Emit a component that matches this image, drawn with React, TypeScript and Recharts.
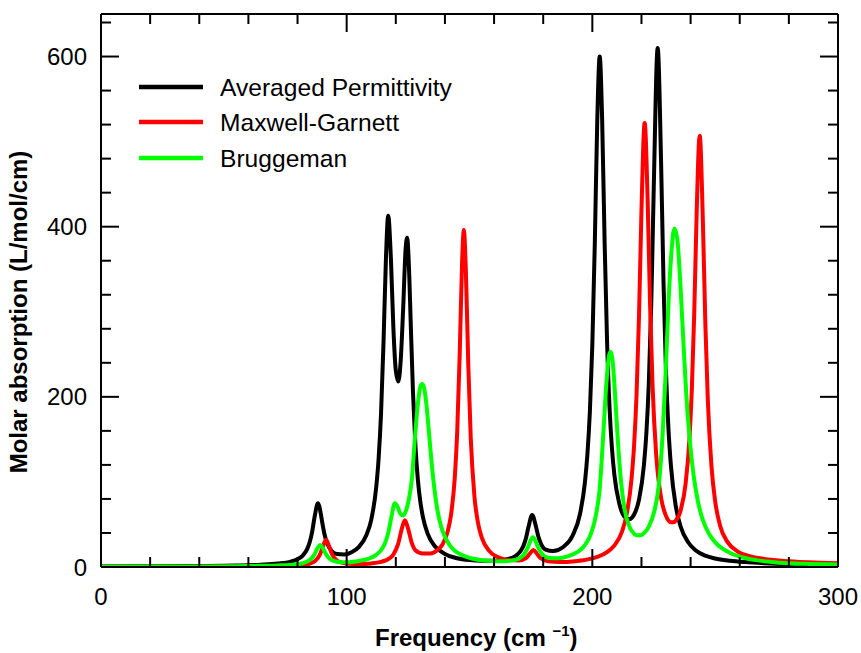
import { LineChart, Line, XAxis, YAxis, ReferenceLine } from 'recharts'

const W = 861
const H = 653
const FONT = '"Liberation Sans", Arial, Helvetica, sans-serif'
const MARGIN = { top: 14, right: 23, bottom: 36, left: 41 }
const X_AXIS_H = 50
const Y_AXIS_W = 60
const PLOT_W = W - MARGIN.left - Y_AXIS_W - MARGIN.right
const PLOT_H = H - MARGIN.top - MARGIN.bottom - X_AXIS_H

// tick positions
const xMinor = [0, 20, 40, 60, 80, 100, 120, 140, 160, 180, 200, 220, 240, 260, 280, 300]
const yMinor = [0, 40, 80, 120, 160, 200, 240, 280, 320, 360, 400, 440, 480, 520, 560, 600, 640]
const xMajorStep = 100
const yMajorStep = 200

// Averaged Permittivity
const freqAvg = [0, 20, 40, 55, 65, 72, 77, 80, 82, 84, 85, 86, 87, 88.3, 89.5, 90, 91, 92, 94, 96, 99, 102, 105, 108, 110, 112, 113, 114, 115, 116, 116.9, 118, 119, 120, 121, 122, 123, 124, 124.6, 125.5, 126, 127, 128, 129, 130, 131, 133, 136, 140, 145, 150, 155, 160, 165, 169, 171, 172, 173, 174, 175.5, 177, 178, 179, 181, 184, 188, 192, 195, 197, 198, 199, 200, 201, 202, 203, 204, 205, 206, 207, 208, 209, 211, 213, 215, 217, 219, 221, 222, 223, 224, 225, 226.6, 228, 229, 230, 231, 232, 234, 236, 239, 242, 246, 250, 256, 262, 270, 280, 290, 300]
const absAvg = [0.6, 0.8, 1.2, 1.8, 2.7, 4.0, 6.1, 9.1, 13.1, 21.6, 29.6, 42.3, 59.7, 75, 62.2, 53.4, 38.2, 28.2, 18.5, 15.2, 14.7, 17.4, 23.7, 37.2, 55.5, 93, 127, 181, 264, 364, 413, 363, 282, 231, 218, 243, 304, 374, 387, 341, 294, 205, 142, 102, 76.5, 59.3, 38.9, 24.1, 15.3, 10.3, 8.1, 7.3, 7.4, 9.0, 13.5, 19.6, 25.2, 34.1, 46.9, 61, 48.1, 36.1, 28.0, 20.5, 18.7, 23.2, 37.0, 62.6, 99.9, 132.8, 182.8, 261.4, 379.6, 523.9, 600, 525, 381.8, 264.8, 187.5, 138.9, 107.6, 74.2, 59.5, 56.2, 61.7, 79.2, 119.7, 157.5, 217.1, 310.8, 445.6, 610, 473.7, 331.6, 228.2, 161.6, 118.7, 70.9, 47, 29.1, 19.8, 13.3, 10, 7.4, 5.8, 4.4, 3.3, 2.6, 2.1]

// Maxwell-Garnett
const freqMG = [0, 20, 40, 55, 65, 72, 78, 82, 85, 87, 89, 90, 91.6, 93, 94, 96, 98, 101, 105, 110, 114, 117, 119, 121, 122.5, 123.7, 125, 126.5, 128, 131, 134, 137, 139, 141, 142.5, 144, 145, 146, 147, 147.7, 148.5, 149.5, 150.5, 152, 153.5, 155, 158, 162, 166, 170, 173, 174.5, 176, 177.5, 179, 182, 187, 192, 197, 202, 206, 209, 212, 214, 216, 217, 218, 219, 220, 221.3, 222.5, 223.5, 224.5, 226, 228, 230, 232, 233, 234, 236, 238, 239.5, 240.5, 241.5, 242.5, 243.7, 245, 246, 247, 248.5, 250, 252, 255, 259, 264, 270, 278, 288, 300]
const absMG = [0.3, 0.3, 0.5, 0.6, 0.8, 1.1, 1.6, 2.5, 4.1, 6.8, 13.9, 21.2, 32, 23.1, 15.3, 7.6, 5.2, 3.8, 3.5, 4.2, 6, 9.4, 14.6, 27.4, 45.6, 55, 45.2, 28.4, 19.8, 16, 16, 20, 26.5, 40.5, 61.7, 104.8, 159, 248.8, 360, 396, 350.4, 238, 152.3, 83.4, 51.2, 34.6, 19, 11.2, 8.2, 7.7, 10.6, 15.5, 20, 15.3, 10.2, 6.6, 5.8, 6.5, 8.3, 11.9, 17.5, 25.4, 41.1, 62.3, 104.8, 143.1, 202.7, 294.8, 418.4, 522, 432.4, 308.7, 214.2, 131.7, 81.1, 60, 52.6, 52.5, 54.6, 67.1, 98.6, 149.1, 208.4, 300.1, 420.1, 507, 406.4, 286.4, 197, 118.4, 77.3, 48.6, 29.5, 18.5, 12.8, 9.5, 7.2, 5.6, 4.5]

// Bruggeman
const freqBr = [0, 20, 40, 55, 65, 72, 78, 82, 85, 87, 88.2, 89.2, 90.2, 91.5, 93, 95, 98, 101, 105, 109, 112, 114, 115.5, 117, 118.3, 119.6, 120.8, 121.8, 122.9, 124, 125.2, 126.5, 127.8, 129, 130, 130.7, 131.5, 132.5, 133.5, 134.5, 135.5, 137, 138.5, 140, 142, 144, 147, 151, 156, 162, 167, 170, 172, 173.5, 174.8, 175.8, 176.8, 178, 179.5, 182, 186, 190, 194, 197, 199.5, 201.5, 203, 204.5, 205.7, 206.7, 207.4, 208.2, 209.2, 210.4, 211.6, 213, 215, 217, 218, 219.5, 221, 223, 225, 227, 228.5, 229.8, 231, 232.2, 233.4, 234.6, 235.8, 237, 238.3, 239.7, 241.2, 243, 245, 247.5, 250, 253, 257, 262, 268, 276, 286, 300]
const absBr = [0.4, 0.5, 0.7, 1, 1.4, 1.8, 2.7, 4.4, 8.2, 15.4, 22.5, 26, 22.8, 15.4, 10, 7, 5.7, 5.7, 7.1, 9.9, 14.3, 19.9, 27.4, 41, 60.1, 75, 70.5, 62.9, 60.5, 65.1, 77.9, 102.2, 152, 192, 212, 215, 211, 190, 158, 125, 97, 66, 47, 35.5, 25.5, 19.2, 14, 10, 7.6, 6.7, 7.5, 9.8, 14.1, 21.2, 30.7, 35, 31, 22.5, 15.4, 11, 10.3, 12.4, 17.7, 25.8, 39.6, 61.3, 92, 158, 215, 247, 253, 244, 205, 148, 103, 70, 48, 39, 37.3, 37.2, 39.7, 47.5, 63.1, 95, 150, 225, 310, 370, 398, 385, 335, 268, 200, 148, 108, 77, 55, 39, 29, 21.5, 15.3, 10.6, 7.5, 5.1, 3.7, 3]

const series = [
  { name: 'Averaged Permittivity', color: '#000000', freq: freqAvg, abs: absAvg },
  { name: 'Maxwell-Garnett', color: '#ff0000', freq: freqMG, abs: absMG },
  { name: 'Bruggeman', color: '#00ff00', freq: freqBr, abs: absBr },
]

const toPoints = (freq: number[], abs: number[]) => freq.map((f, i) => ({ freq: f, value: abs[i] }))

// inward ticks on bottom and top, label below
const XTick = (props: any) => {
  const { x, y, payload } = props
  const major = payload.value % xMajorStep === 0
  const len = major ? 18 : 10
  const top = y - PLOT_H
  return (
    <g>
      <line x1={x} x2={x} y1={y} y2={y - len} stroke="#000" strokeWidth={2} />
      <line x1={x} x2={x} y1={top} y2={top + len} stroke="#000" strokeWidth={2} />
      {major && (
        <text x={x} y={y + 38} textAnchor="middle" fontFamily={FONT} fontSize={24} fill="#000">
          {payload.value}
        </text>
      )}
    </g>
  )
}

// inward ticks on left and right, label at left
const YTick = (props: any) => {
  const { x, y, payload } = props
  const major = payload.value % yMajorStep === 0
  const len = major ? 18 : 10
  const right = x + PLOT_W
  return (
    <g>
      <line x1={x} x2={x + len} y1={y} y2={y} stroke="#000" strokeWidth={2} />
      <line x1={right} x2={right - len} y1={y} y2={y} stroke="#000" strokeWidth={2} />
      {major && (
        <text x={x - 14} y={y + 8.5} textAnchor="end" fontFamily={FONT} fontSize={24} fill="#000">
          {payload.value}
        </text>
      )}
    </g>
  )
}

const frame = { stroke: '#000', strokeWidth: 2 }

export default function App() {
  return (
    <div style={{ position: 'absolute', left: 0, top: 0, width: W, height: H, background: '#fff' }}>
      <LineChart width={W} height={H} margin={MARGIN}>
        <XAxis
          xAxisId="x"
          dataKey="freq"
          type="number"
          domain={[0, 300]}
          allowDataOverflow
          ticks={xMinor}
          interval={0}
          height={X_AXIS_H}
          tickLine={false}
          tickSize={0}
          tickMargin={0}
          axisLine={frame}
          tick={XTick}
        />
        <YAxis
          yAxisId="y"
          type="number"
          domain={[0, 650]}
          allowDataOverflow
          ticks={yMinor}
          interval={0}
          width={Y_AXIS_W}
          tickLine={false}
          tickSize={0}
          tickMargin={0}
          axisLine={frame}
          tick={YTick}
        />
        <ReferenceLine xAxisId="x" yAxisId="y" y={650} stroke="#000" strokeWidth={2} />
        <ReferenceLine xAxisId="x" yAxisId="y" x={300} stroke="#000" strokeWidth={2} />

        {series.map((s) => (
          <Line
            key={s.name}
            xAxisId="x"
            yAxisId="y"
            data={toPoints(s.freq, s.abs)}
            dataKey="value"
            type="monotone"
            stroke={s.color}
            strokeWidth={4}
            dot={false}
            activeDot={false}
            isAnimationActive={false}
          />
        ))}
      </LineChart>

      {/* titles and legend */}
      <svg width={W} height={H} style={{ position: 'absolute', left: 0, top: 0, pointerEvents: 'none' }}>
        <text x={375} y={646} fontFamily={FONT} fontSize={24} fontWeight="bold" fill="#000">
          <tspan>Frequency (cm </tspan>
          <tspan dy={-10} fontSize={15}>−1</tspan>
          <tspan dy={10}>)</tspan>
        </text>
        <text
          x={27}
          y={312}
          transform="rotate(-90, 27, 312)"
          textAnchor="middle"
          fontFamily={FONT}
          fontSize={24}
          fontWeight="bold"
          fill="#000"
        >
          Molar absorption (L/mol/cm)
        </text>
        {series.map((s, i) => {
          const cy = [87, 122, 158][i]
          return (
            <g key={s.name}>
              <line x1={139} x2={203} y1={cy} y2={cy} stroke={s.color} strokeWidth={4.5} />
              <text x={220} y={cy + 9} fontFamily={FONT} fontSize={24.6} fill="#000">
                {s.name}
              </text>
            </g>
          )
        })}
      </svg>
    </div>
  )
}
